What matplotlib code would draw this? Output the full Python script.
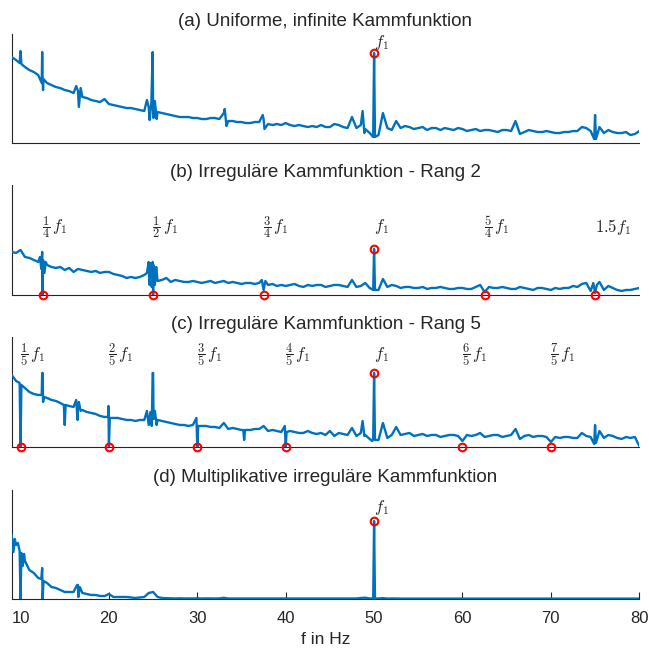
import numpy as np
import matplotlib
matplotlib.use('Agg')
import matplotlib.pyplot as plt

plt.rcParams.update({
    'font.family': ['Liberation Sans', 'DejaVu Sans'],
    'mathtext.fontset': 'cm',
    'font.size': 11,
})

# sampling grid of the spectra (Hz), values are amplitudes in arbitrary units
freq_grid = np.arange(9.0, 80.01, 0.5)

# ── (a) uniform comb ──
amp_a = [86, 83, 80, 76, 73, 71, 68, 62, 60, 58,
         56, 55, 53, 52, 50, 52, 46, 45, 43, 42,
         41, 44, 39, 38, 37, 36, 35, 35, 34, 33,
         32, 36, 33, 31, 30, 29, 28, 27, 26, 26,
         26, 25, 25, 24, 24, 25, 25, 24, 30, 22,
         22, 21, 21, 20, 20, 21, 21, 24, 19, 18,
         19, 18, 20, 18, 17, 18, 17, 16, 17, 16,
         18, 16, 16, 19, 18, 16, 15, 26, 15, 18,
         14, 10, 90, 8, 30, 15, 13, 22, 15, 17,
         16, 14, 15, 16, 13, 15, 15, 13, 15, 14,
         13, 15, 14, 12, 13, 14, 12, 13, 13, 12,
         11, 13, 13, 12, 22, 9, 11, 13, 12, 11,
         11, 12, 11, 10, 10, 11, 11, 12, 12, 16,
         15, 12, 28, 16, 10, 13, 11, 10, 10, 11,
         8, 9, 12]
peak_a_f = [9.9, 10.0, 10.1, 12.4, 12.45, 12.55, 12.6, 16.3, 16.6, 16.8,
            24.3, 24.6, 24.8, 24.95, 25.05, 25.2, 25.4, 33.1, 33.3,
            37.4, 37.6, 48.7, 48.9, 49.9, 50.0, 50.1, 74.9, 75.0, 75.1]
peak_a_v = [80, 92, 79, 60, 91, 53, 64, 57, 36, 55,
            43, 23, 40, 91, 25, 42, 24, 34, 17,
            28, 14, 32, 10, 6, 90, 6, 4, 28, 4]
mark_a_f = [50]
mark_a_v = [90]
lab_a = [(50, None, r'$f_1$')]

# ── (b) irregular comb, rank 2 ──
amp_b = [43, 42, 45, 38, 37, 35, 33, 30, 30, 28,
         27, 28, 25, 27, 23, 26, 25, 24, 23, 24,
         22, 23, 23, 21, 20, 19, 17, 18, 17, 18,
         20, 22, 20, 20, 15, 17, 13, 15, 14, 13,
         13, 14, 13, 12, 13, 14, 12, 13, 14, 12,
         13, 12, 11, 12, 12, 11, 12, 5, 10, 11,
         9, 10, 9, 10, 11, 9, 8, 10, 9, 10,
         10, 8, 9, 10, 10, 9, 8, 15, 8, 9,
         12, 7, 46, 5, 16, 8, 10, 9, 7, 8,
         8, 7, 7, 8, 6, 7, 7, 8, 7, 6,
         6, 7, 7, 6, 6, 8, 10, 3, 8, 7,
         7, 8, 7, 6, 6, 8, 7, 6, 5, 7,
         7, 6, 5, 7, 6, 7, 7, 9, 8, 11,
         12, 4, 2, 13, 5, 9, 7, 5, 4, 5,
         5, 6, 7]
peak_b_f = [12.2, 12.35, 12.45, 12.5, 12.55, 12.7, 12.85,
            24.3, 24.5, 24.6, 24.75, 24.85, 24.95, 25.0, 25.05, 25.2, 25.35, 25.5,
            37.3, 37.5, 37.7, 49.9, 50.0, 50.1, 74.8, 75.0, 75.2]
peak_b_v = [38, 26, 43, 0, 35, 22, 33,
            22, 33, 10, 32, 8, 33, 0, 30, 10, 28, 14,
            15, 5, 14, 5, 46, 5, 12, 2, 10]
mark_b_f = [12.5, 25, 37.5, 50, 62.5, 75]
mark_b_v = [0, 0, 0, 46, 0, 0]
lab_b = [(12.5, (1, 4), r'$f_1$'), (25, (1, 2), r'$f_1$'),
         (37.5, (3, 4), r'$f_1$'), (50, None, r'$f_1$'),
         (62.5, (5, 4), r'$f_1$'), (75, None, r'$1.5f_1$')]

# ── (c) irregular comb, rank 5 ──
amp_c = [72, 66, 0, 59, 55, 53, 52, 74, 49, 47,
         46, 44, 42, 41, 40, 40, 37, 35, 34, 33,
         31, 30, 0, 29, 29, 28, 27, 27, 26, 27,
         27, 30, 74, 27, 26, 25, 24, 23, 22, 22,
         21, 22, 0, 21, 21, 20, 20, 19, 24, 18,
         19, 18, 17, 17, 17, 18, 18, 21, 16, 17,
         16, 15, 0, 16, 15, 14, 14, 16, 14, 13,
         14, 12, 16, 11, 14, 13, 12, 19, 11, 14,
         12, 8, 74, 7, 24, 9, 12, 20, 12, 13,
         14, 11, 12, 13, 11, 12, 12, 10, 11, 12,
         12, 11, 6, 12, 11, 12, 14, 10, 11, 12,
         12, 10, 11, 12, 18, 8, 11, 12, 10, 11,
         11, 10, 5, 10, 9, 10, 10, 9, 9, 14,
         11, 10, 22, 16, 9, 12, 11, 9, 8, 10,
         9, 10, 1]
peak_c_f = [9.9, 10.0, 10.1, 12.4, 12.45, 12.55, 12.65, 14.9, 15.0, 15.1,
            16.3, 16.45, 16.6, 16.8, 19.9, 19.95, 20.0, 20.1,
            24.3, 24.5, 24.7, 24.85, 24.95, 25.05, 25.2, 25.4,
            29.9, 30.0, 30.1, 35.2, 35.3, 35.4, 39.9, 40.0, 40.1,
            48.7, 48.9, 49.8, 49.9, 50.0, 50.1, 74.9, 75.0, 75.1]
peak_c_v = [64, 0, 62, 52, 74, 45, 50, 42, 22, 42,
            47, 27, 45, 36, 30, 41, 0, 29,
            36, 22, 35, 21, 74, 28, 36, 22,
            29, 0, 21, 17, 7, 17, 21, 0, 15,
            26, 11, 6, 8, 74, 7, 3, 22, 4]
mark_c_f = [10, 20, 30, 40, 50, 60, 70]
mark_c_v = [0, 0, 0, 0, 74, 0, 0]
lab_c = [(10, (1, 5), r'$f_1$'), (20, (2, 5), r'$f_1$'),
         (30, (3, 5), r'$f_1$'), (40, (4, 5), r'$f_1$'),
         (50, None, r'$f_1$'), (60, (6, 5), r'$f_1$'), (70, (7, 5), r'$f_1$')]

# ── (d) multiplicative irregular comb ──
amp_d = [64, 54, 0, 38, 29, 26, 21, 0, 16, 12,
         11, 9, 7, 7, 7, 14, 6, 5, 4, 4,
         3, 3, 5, 2, 2, 2, 2, 1.5, 1, 1.5,
         2, 6, 7, 2, 1, 0.8, 0.6, 0.5, 0.7, 0.5,
         0.6, 0.5, 0.7, 0.5, 0.6, 0.5, 0.5, 0.6, 1.2, 0.5,
         0.5, 0.6, 0.4, 0.5, 0.5, 0.4, 0.5, 0.5, 0.4, 0.5,
         0.4, 0.5, 0.4, 0.4, 0.5, 0.4, 0.4, 0.5, 0.4, 0.4,
         0.4, 0.5, 0.4, 0.4, 0.4, 0.5, 0.4, 0.6, 0.5, 1.0,
         1.3, 0.5, 78, 0.5, 0.9, 0.4, 0.5, 0.4, 0.4, 0.4,
         0.4, 0.5, 0.4, 0.4, 0.5, 0.4, 0.4, 0.4, 0.5, 0.4,
         0.4, 0.4, 0.5, 0.4, 0.4, 0.4, 0.5, 0.4, 0.4, 0.4,
         0.5, 0.4, 0.4, 0.4, 0.4, 0.5, 0.4, 0.4, 0.4, 0.4,
         0.4, 0.4, 0.5, 0.4, 0.4, 0.4, 0.4, 0.4, 0.5, 0.4,
         0.4, 0.4, 0.4, 0.5, 0.4, 0.4, 0.4, 0.4, 0.4, 0.4,
         0.4, 0.4, 0.4]
peak_d_f = [9.2, 9.35, 9.7, 9.9, 10.0, 10.1, 10.25, 10.4,
            12.35, 12.45, 12.5, 12.6, 16.4, 16.55, 16.7, 49.9, 50.0, 50.1]
peak_d_v = [47, 60, 56, 48, 0, 46, 33, 45,
            20, 31, 0, 18, 14, 2, 12, 0.5, 78, 0.5]
mark_d_f = [50]
mark_d_v = [78]
lab_d = [(50, None, r'$f_1$')]

titles = ['(a) Uniforme, infinite Kammfunktion',
          '(b) Irreguläre Kammfunktion - Rang 2',
          '(c) Irreguläre Kammfunktion - Rang 5',
          '(d) Multiplikative irreguläre Kammfunktion']


def merge(base, pf, pv):
    d = dict(zip(np.round(freq_grid, 2), base))
    d.update(zip(np.round(pf, 2), pv))
    f = np.array(sorted(d))
    return f, np.array([d[k] for k in f])


panels = [
    (amp_a, peak_a_f, peak_a_v, mark_a_f, mark_a_v, lab_a, 109, 101),
    (amp_b, peak_b_f, peak_b_v, mark_b_f, mark_b_v, lab_b, 110, 68),
    (amp_c, peak_c_f, peak_c_v, mark_c_f, mark_c_v, lab_c, 110, 92),
    (amp_d, peak_d_f, peak_d_v, mark_d_f, mark_d_v, lab_d, 109, 92),
]
# axes boxes in figure fractions [left, bottom, width, height]
boxes = [[0.018, 0.7803, 0.967, 0.1674],
         [0.018, 0.5469, 0.967, 0.1690],
         [0.018, 0.3134, 0.967, 0.1690],
         [0.018, 0.0799, 0.967, 0.1674]]

fig = plt.figure(figsize=(6.49, 6.51), dpi=100)
blue = '#0072BD'
grey = '#262626'

for i, (amp, pf, pv, mf, mv, labs, ytop, ylab) in enumerate(panels):
    ax = fig.add_axes(boxes[i])
    f, v = merge(amp, pf, pv)
    ax.plot(f, v, color=blue, lw=1.7, zorder=3)
    ax.plot(mf, mv, 'o', ms=5.5, mfc='none', mec='#FF0000', mew=1.5,
            zorder=4, clip_on=False)
    for fx, frac, s in labs:
        dx = 0
        if frac is not None:
            ax.annotate(r'$\dfrac{%d}{%d}$' % frac, (fx, ylab), xytext=(-0.5, 0),
                        textcoords='offset points', ha='left', va='center',
                        fontsize=9, color=grey)
            dx = 6.8
        ax.annotate(s, (fx, ylab), xytext=(dx, 0), textcoords='offset points',
                    ha='left', va='center', fontsize=12, color=grey)
    ax.set_xlim(9, 80)
    ax.set_ylim(0, ytop)
    ax.set_yticks([])
    for side in ['top', 'right']:
        ax.spines[side].set_visible(False)
    for side in ['left', 'bottom']:
        ax.spines[side].set_color(grey)
        ax.spines[side].set_linewidth(0.8)
    ax.set_title(titles[i], fontsize=13.5, color=grey, pad=6)
    if i < 3:
        ax.set_xticks([])
    else:
        ax.set_xticks([10, 20, 30, 40, 50, 60, 70, 80])
        ax.tick_params(axis='x', direction='in', length=5, width=0.8,
                       color=grey, labelcolor=grey, labelsize=12, pad=9)
        ax.set_xlabel('f in Hz', fontsize=12.5, color=grey, labelpad=4)

plt.savefig('out.png', dpi=100)
